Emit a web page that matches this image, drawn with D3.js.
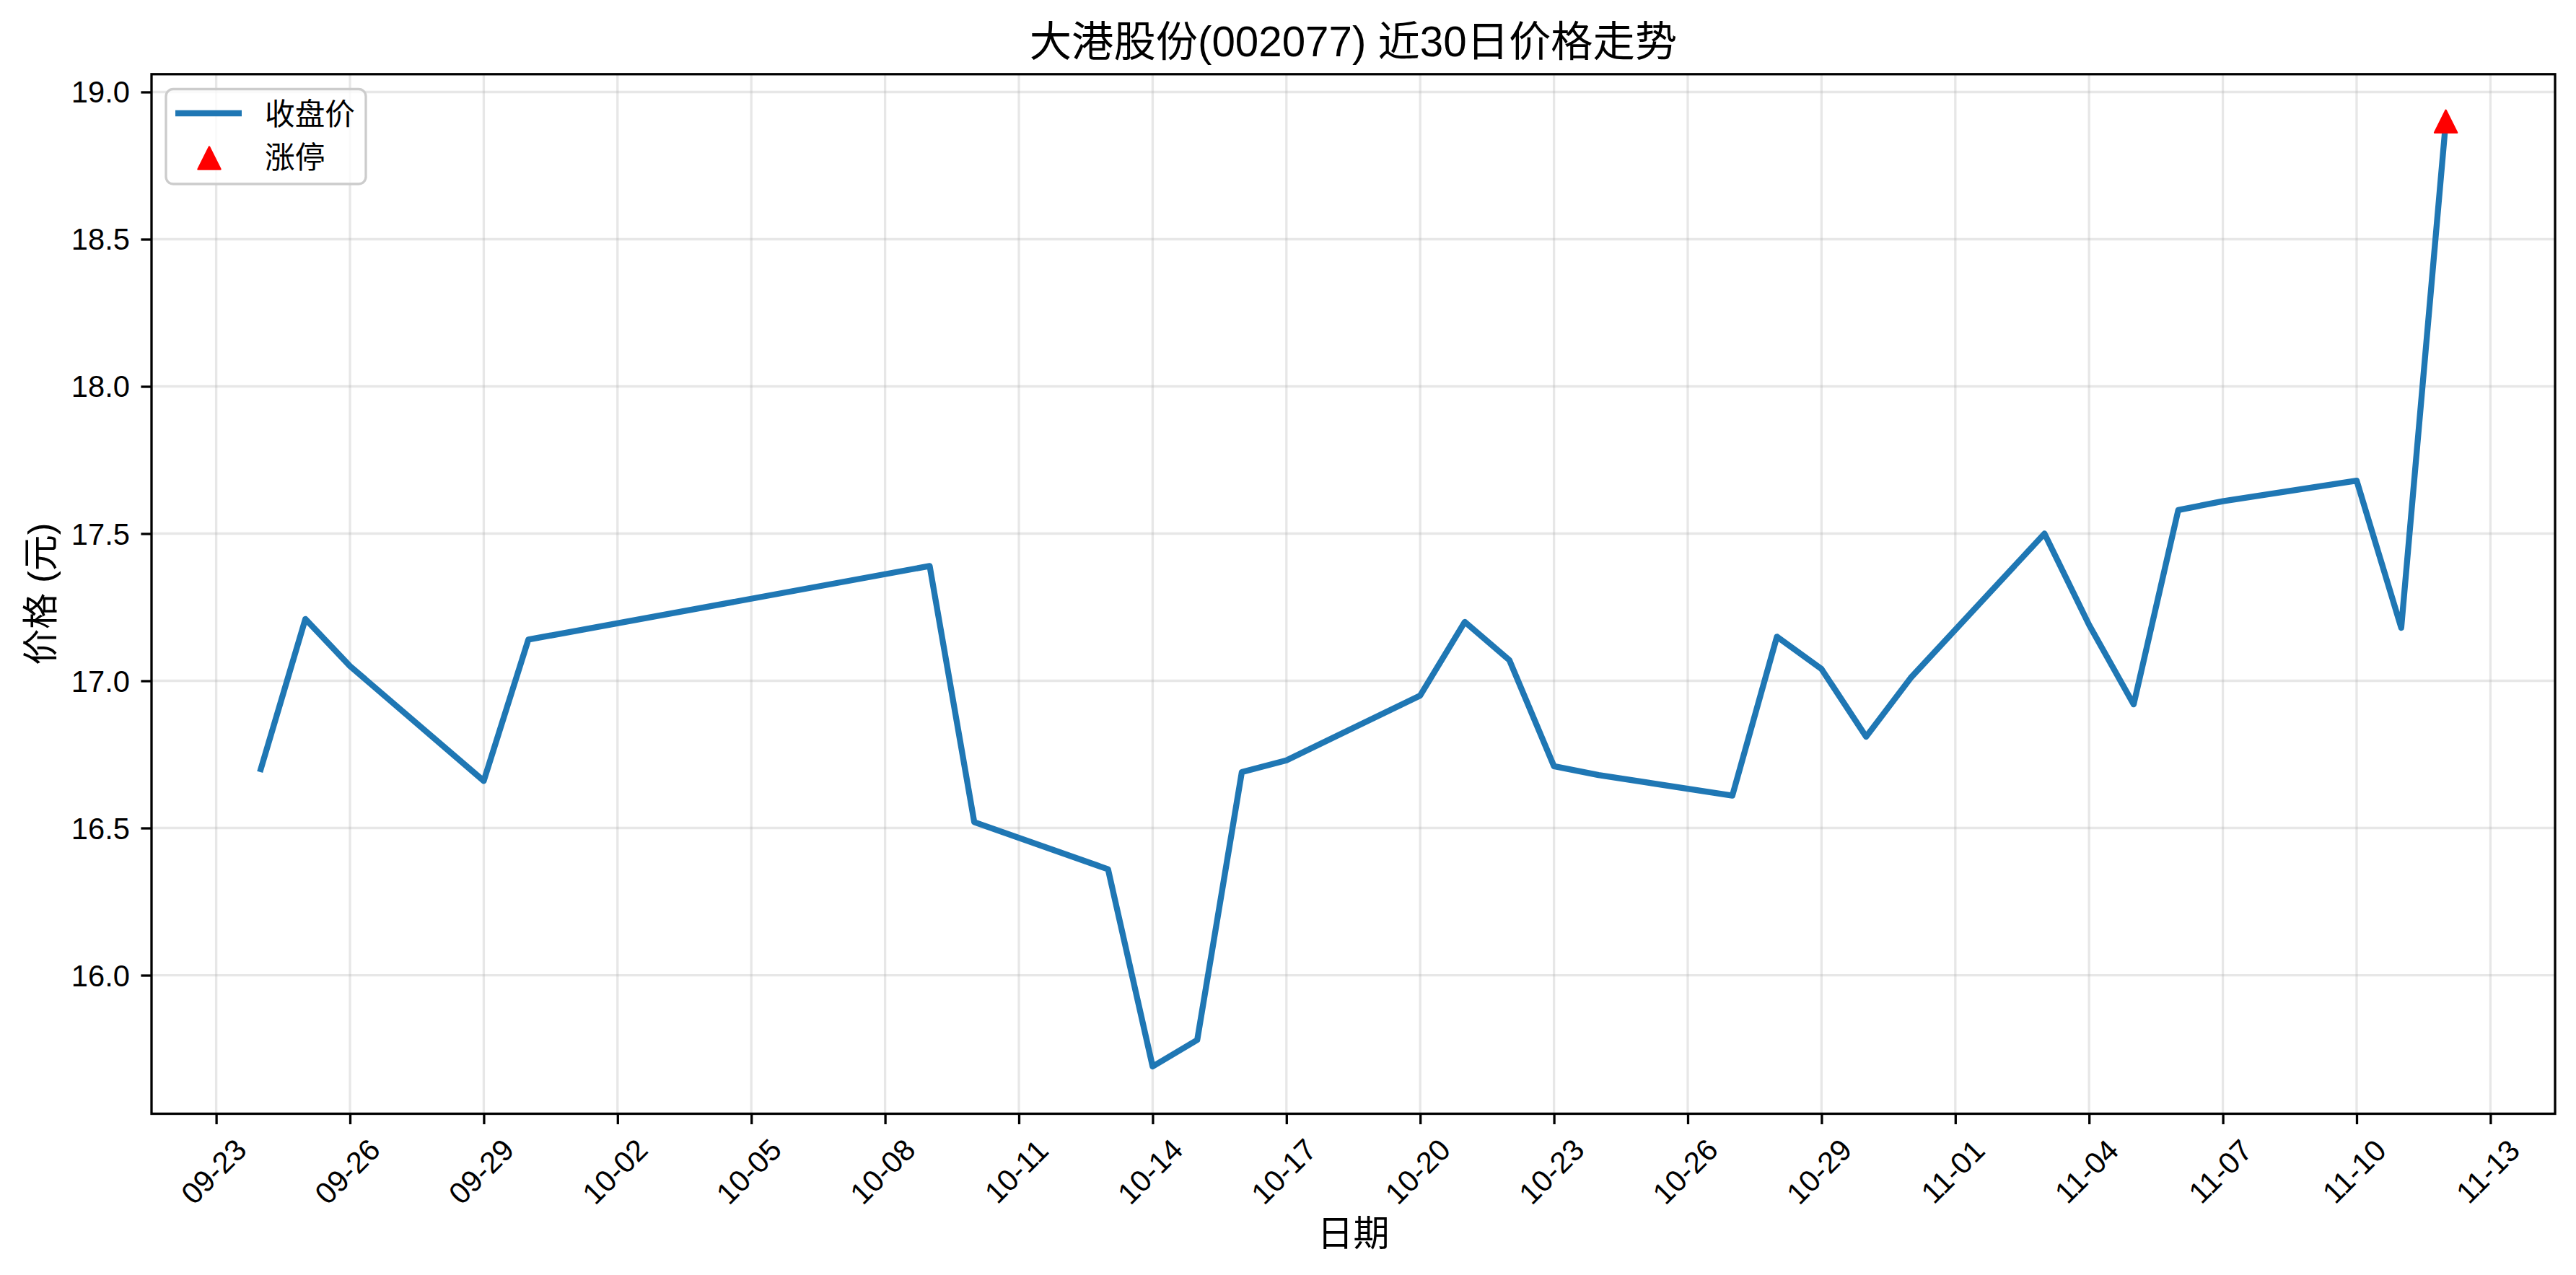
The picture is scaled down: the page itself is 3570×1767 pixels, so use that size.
<!DOCTYPE html>
<html><head><meta charset="utf-8">
<script src="https://cdn.jsdelivr.net/npm/d3@7"></script>
<style>body{margin:0;background:#fff} svg{display:block}</style>
</head><body>
<svg id="c" width="3570" height="1767"></svg>
<script>
const YEAR = 2025;
const dates = ["09-24","09-25","09-26","09-29","09-30","10-09","10-10","10-13","10-14","10-15",
  "10-16","10-17","10-20","10-21","10-22","10-23","10-24","10-27","10-28","10-29",
  "10-30","10-31","11-03","11-04","11-05","11-06","11-07","11-10","11-11","11-12"];
const closes = [16.70,17.21,17.05,16.66,17.14,17.39,16.52,16.36,15.69,15.78,
  16.69,16.73,16.95,17.20,17.07,16.71,16.68,16.61,17.15,17.04,
  16.81,17.01,17.50,17.19,16.92,17.58,17.61,17.68,17.18,18.90];
const limitUpDates = ["11-12"];
const xTickLabels = ["09-23","09-26","09-29","10-02","10-05","10-08","10-11","10-14","10-17",
  "10-20","10-23","10-26","10-29","11-01","11-04","11-07","11-10","11-13"];
const yTickValues = [16.0,16.5,17.0,17.5,18.0,18.5,19.0];
const titleText = "大港股份(002077) 近30日价格走势";
const xLabelText = "日期";
const yLabelText = "价格 (元)";
const legendLabels = ["收盘价","涨停"];

const FONT = "'Liberation Sans', Arial, 'Noto Sans CJK SC', sans-serif";
const BLUE = "#1f77b4";
const svg = d3.select("#c").style("font-family", FONT);
const M = {left:210, right:3541, top:102.8, bottom:1543.5};
const parse = s => new Date(Date.UTC(YEAR, +s.slice(0,2)-1, +s.slice(3)));
const xd = dates.map(parse);
const [xa, xb] = d3.extent(xd); const xspan = xb - xa;
const x = d3.scaleUtc().domain([new Date(+xa - 0.05*xspan), new Date(+xb + 0.05*xspan)]).range([M.left, M.right]);
const [ya, yb] = d3.extent(closes); const yspan = yb - ya;
const y = d3.scaleLinear().domain([ya - 0.05*yspan, yb + 0.05*yspan]).range([M.bottom, M.top]);
const xTicks = xTickLabels.map(parse);

svg.append("rect").attr("width",3570).attr("height",1767).attr("fill","#fff");

// grid
const grid = svg.append("g").attr("stroke","#b0b0b0").attr("stroke-opacity",0.3).attr("stroke-width",3.3);
grid.selectAll("line.gx").data(xTicks).join("line")
  .attr("x1",d=>x(d)).attr("x2",d=>x(d)).attr("y1",M.top).attr("y2",M.bottom);
grid.selectAll("line.gy").data(yTickValues).join("line").attr("class","gy")
  .attr("x1",M.left).attr("x2",M.right).attr("y1",d=>y(d)).attr("y2",d=>y(d));

// line
const line = d3.line().x((d,i)=>x(xd[i])).y(d=>y(d));
svg.append("path").datum(closes).attr("d",line).attr("fill","none")
  .attr("stroke",BLUE).attr("stroke-width",8.3).attr("stroke-linejoin","round").attr("stroke-linecap","square");

// limit-up markers
const S = 31;
const tri = (cx,cy,s) => `M${cx},${cy-s/2}L${cx+s/2},${cy+s/2}L${cx-s/2},${cy+s/2}Z`;
svg.selectAll("path.mk").data(limitUpDates).join("path").attr("class","mk")
  .attr("d", d => { const i = dates.indexOf(d); return tri(x(xd[i]), y(closes[i]), S); })
  .attr("fill","#ff0000").attr("stroke","#ff0000").attr("stroke-width",2.5).attr("stroke-linejoin","round");

// axes
const gx = svg.append("g").attr("transform",`translate(0,${M.bottom})`)
  .call(d3.axisBottom(x).tickValues(xTicks).tickFormat(d3.utcFormat("%m-%d")).tickSize(14.6).tickSizeOuter(0));
gx.select(".domain").remove();
gx.selectAll(".tick line").attr("stroke","#000").attr("stroke-width",3.3);
gx.selectAll(".tick text").attr("y",null).attr("dy",null)
  .attr("font-size",41.7).attr("fill","#000").attr("font-family",FONT)
  .attr("text-anchor","middle").attr("dominant-baseline","central")
  .attr("transform","translate(-4,80) rotate(-45)");

const gy = svg.append("g").attr("transform",`translate(${M.left},0)`)
  .call(d3.axisLeft(y).tickValues(yTickValues).tickFormat(d3.format(".1f")).tickSize(14.6).tickPadding(14.6).tickSizeOuter(0));
gy.select(".domain").remove();
gy.selectAll(".tick line").attr("stroke","#000").attr("stroke-width",3.3);
gy.selectAll(".tick text").attr("dy",null).attr("x",-30)
  .attr("font-size",41.7).attr("fill","#000").attr("font-family",FONT)
  .attr("dominant-baseline","central");

// spines
svg.append("rect").attr("x",M.left).attr("y",M.top).attr("width",M.right-M.left).attr("height",M.bottom-M.top)
  .attr("fill","none").attr("stroke","#000").attr("stroke-width",3.3);

// titles
svg.append("text").attr("x",(M.left+M.right)/2).attr("y",57).attr("text-anchor","middle")
  .attr("dominant-baseline","central").attr("font-size",58.3).text(titleText);
svg.append("text").attr("x",(M.left+M.right)/2).attr("y",1710).attr("text-anchor","middle")
  .attr("dominant-baseline","central").attr("font-size",50).text(xLabelText);
svg.append("text").attr("transform",`translate(57,${(M.top+M.bottom)/2}) rotate(-90)`).attr("text-anchor","middle")
  .attr("dominant-baseline","central").attr("font-size",50).text(yLabelText);

// legend
const lg = svg.append("g");
lg.append("rect").attr("x",230).attr("y",123.5).attr("width",277).attr("height",131.5).attr("rx",10)
  .attr("fill","#fff").attr("fill-opacity",0.8).attr("stroke","#cccccc").attr("stroke-width",3.3);
lg.append("line").attr("x1",243).attr("x2",335).attr("y1",157).attr("y2",157)
  .attr("stroke",BLUE).attr("stroke-width",8.3).attr("stroke-linecap","butt");
lg.append("path").attr("d",tri(290,219,S)).attr("fill","#ff0000").attr("stroke","#ff0000").attr("stroke-width",2.5).attr("stroke-linejoin","round");
lg.selectAll("text").data(legendLabels).join("text").attr("x",367).attr("y",(d,i)=>[158,218][i])
  .attr("dominant-baseline","central").attr("font-size",41.7).text(d=>d);
</script>
</body></html>
